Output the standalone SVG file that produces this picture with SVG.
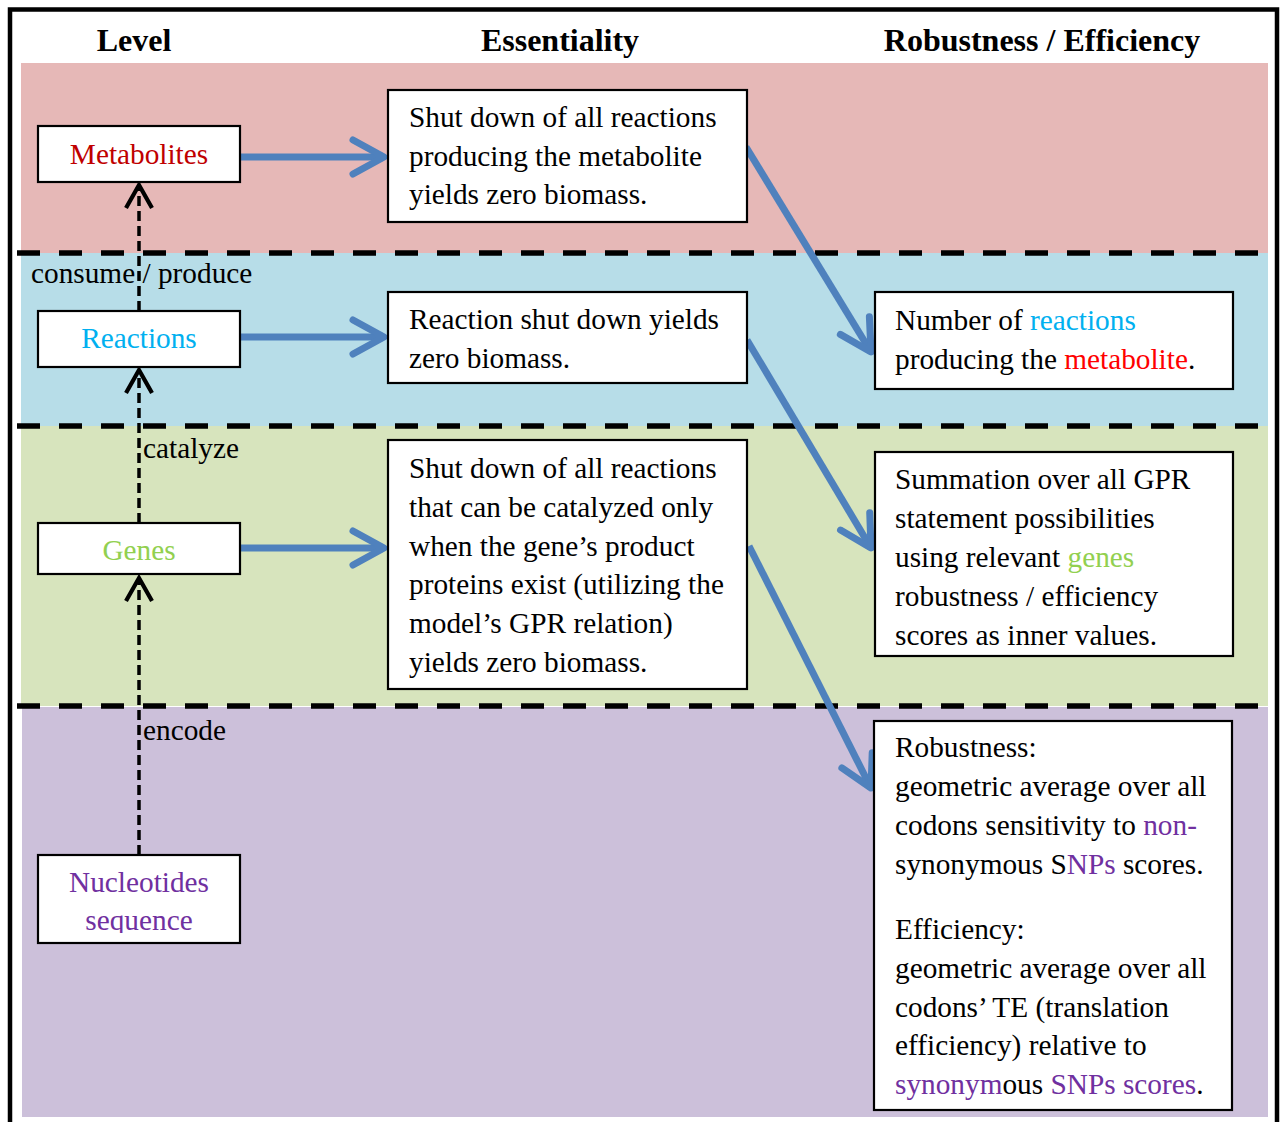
<svg xmlns="http://www.w3.org/2000/svg" width="1283" height="1122" viewBox="0 0 1283 1122">
<defs>
<style>
text{font-family:"Liberation Serif","Times New Roman",serif;font-size:29.3px;fill:#000}
.hdr{font-weight:bold;font-size:32px;text-anchor:middle}
.node rect{fill:#fff;stroke:#000;stroke-width:2.2}
.c{text-anchor:middle}
.sep{stroke:#000;stroke-width:5.5;stroke-dasharray:23 19;fill:none}
.blue{stroke:#4F81BD;stroke-width:7;fill:none;marker-end:url(#ab)}
.dash{stroke:#000;stroke-width:3.5;stroke-dasharray:10 5;fill:none;marker-end:url(#ak)}
.red{fill:#C00000}.sky{fill:#00B0F0}.grn{fill:#92D050}.pur{fill:#7030A0}.rr{fill:#FF0000}
</style>
<marker id="ab" markerUnits="userSpaceOnUse" viewBox="-45 -30 55 60" markerWidth="55" markerHeight="60" refX="0" refY="0" orient="auto">
<path d="M-31,-17 L0,0 L-31,17" fill="none" stroke="#4F81BD" stroke-width="7" stroke-linecap="round" stroke-linejoin="round"/>
</marker>
<marker id="ak" markerUnits="userSpaceOnUse" viewBox="-30 -20 40 40" markerWidth="40" markerHeight="40" refX="0" refY="0" orient="auto">
<path d="M-23,-13 L0,0 L-23,13" fill="none" stroke="#000" stroke-width="4.2" stroke-linejoin="miter"/>
</marker>
<clipPath id="nclip"><rect x="38" y="855" width="202" height="78"/></clipPath>
</defs>
<rect x="0" y="0" width="1283" height="1122" fill="#fff"/>
<rect x="10" y="9.5" width="1267" height="1200" fill="#fff" stroke="#000" stroke-width="4.5"/>
<g id="bands">
<rect x="21" y="63" width="1247" height="190" fill="#E6B8B7"/>
<rect x="21" y="253" width="1247" height="173" fill="#B7DDE8"/>
<rect x="21" y="426" width="1247" height="280" fill="#D7E4BD"/>
<rect x="22" y="707" width="1246" height="410" fill="#CCC0DA"/>
<line class="sep" x1="17" y1="253" x2="1268" y2="253"/>
<line class="sep" x1="17" y1="426" x2="1268" y2="426"/>
<line class="sep" x1="17" y1="706" x2="1268" y2="706"/>
</g>
<g id="headers">
<text class="hdr" x="134" y="51">Level</text>
<text class="hdr" x="560" y="51">Essentiality</text>
<text class="hdr" x="1042" y="51">Robustness / Efficiency</text>
</g>
<g id="connectors">
<line class="dash" x1="139" y1="311" x2="139" y2="185"/>
<line class="dash" x1="139" y1="523" x2="139" y2="370"/>
<line class="dash" x1="139" y1="855" x2="139" y2="578"/>
<line class="blue" x1="241" y1="157" x2="384" y2="157"/>
<line class="blue" x1="241" y1="337" x2="384" y2="337"/>
<line class="blue" x1="241" y1="548" x2="384" y2="548"/>
<line class="blue" x1="746" y1="147" x2="871" y2="352"/>
<line class="blue" x1="747" y1="340" x2="871" y2="548"/>
<line class="blue" x1="749" y1="546" x2="871" y2="788"/>
<text x="31" y="283">consume / produce</text>
<text x="143" y="458">catalyze</text>
<text x="143" y="740">encode</text>
</g>
<g id="metabolites" class="node">
<rect x="38" y="126" width="202" height="56"/>
<text class="c red" x="139" y="164">Metabolites</text>
</g>
<g id="reactions" class="node">
<rect x="38" y="311" width="202" height="56"/>
<text class="c sky" x="139" y="348">Reactions</text>
</g>
<g id="genes" class="node">
<rect x="38" y="523" width="202" height="51"/>
<text class="c grn" x="139" y="560">Genes</text>
</g>
<g id="nucleotides" class="node">
<rect x="38" y="855" width="202" height="88"/>
<g clip-path="url(#nclip)">
<text class="c pur" x="139" y="892">Nucleotides</text>
<text class="c pur" x="139" y="930">sequence</text>
</g>
</g>
<g id="ess-metabolites" class="node">
<rect x="388" y="90" width="359" height="132"/>
<text x="409" y="127">Shut down of all reactions</text>
<text x="409" y="166">producing the metabolite</text>
<text x="409" y="204">yields zero biomass.</text>
</g>
<g id="ess-reactions" class="node">
<rect x="388" y="292" width="359" height="91"/>
<text x="409" y="329">Reaction shut down yields</text>
<text x="409" y="368">zero biomass.</text>
</g>
<g id="ess-genes" class="node">
<rect x="388" y="440" width="359" height="249"/>
<text x="409" y="478">Shut down of all reactions</text>
<text x="409" y="517">that can be catalyzed only</text>
<text x="409" y="556">when the gene’s product</text>
<text x="409" y="594">proteins exist (utilizing the</text>
<text x="409" y="633">model’s GPR relation)</text>
<text x="409" y="672">yields zero biomass.</text>
</g>
<g id="rob-metabolites" class="node">
<rect x="875" y="292" width="358" height="97"/>
<text x="895" y="330">Number of <tspan class="sky">reactions</tspan></text>
<text x="895" y="369">producing the <tspan class="rr">metabolite</tspan>.</text>
</g>
<g id="rob-reactions" class="node">
<rect x="875" y="452" width="358" height="204"/>
<text x="895" y="489">Summation over all GPR</text>
<text x="895" y="528">statement possibilities</text>
<text x="895" y="567">using relevant <tspan class="grn">genes</tspan></text>
<text x="895" y="606">robustness / efficiency</text>
<text x="895" y="645">scores as inner values.</text>
</g>
<g id="rob-genes" class="node">
<rect x="874" y="721" width="358" height="389"/>
<text x="895" y="757">Robustness:</text>
<text x="895" y="796">geometric average over all</text>
<text x="895" y="835">codons sensitivity to <tspan class="pur">non-</tspan></text>
<text x="895" y="874">synonymous S<tspan class="pur">NPs</tspan> scores.</text>
<text x="895" y="939">Efficiency:</text>
<text x="895" y="978">geometric average over all</text>
<text x="895" y="1017">codons’ TE (translation</text>
<text x="895" y="1055">efficiency) relative to</text>
<text x="895" y="1094"><tspan class="pur">synonym</tspan>ous <tspan class="pur">SNPs scores</tspan>.</text>
</g>
</svg>
